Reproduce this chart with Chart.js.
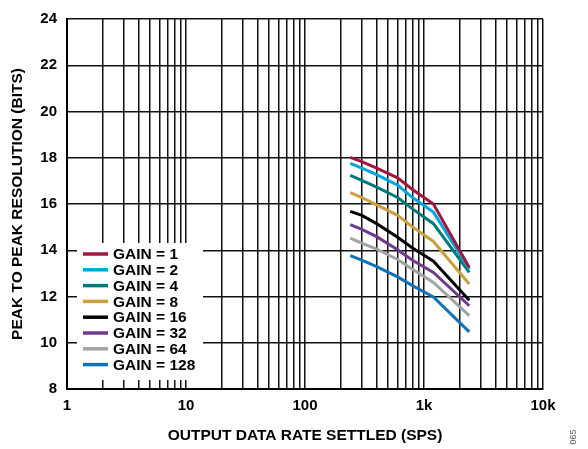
<!DOCTYPE html>
<html>
<head>
<meta charset="utf-8">
<script src="https://cdn.jsdelivr.net/npm/chart.js@4.4.1/dist/chart.umd.min.js"></script>
<style>
  body { margin: 0; background: #fff; }
  #wrap { width: 588px; height: 449px; }
</style>
</head>
<body>
<div id="wrap"><canvas id="chart" width="588" height="449"></canvas></div>
<script>
// Data
const rates = [240, 300, 400, 600, 800, 1200, 2400];
const seriesNames = ["GAIN = 1", "GAIN = 2", "GAIN = 4", "GAIN = 8", "GAIN = 16", "GAIN = 32", "GAIN = 64", "GAIN = 128"];
const gain1 = [18.02, 17.83, 17.55, 17.13, 16.63, 16.0, 13.25];
const gain2 = [17.76, 17.55, 17.27, 16.82, 16.28, 15.65, 13.18];
const gain4 = [17.24, 17.02, 16.73, 16.28, 15.79, 15.15, 13.04];
const gain8 = [16.49, 16.28, 15.96, 15.51, 15.01, 14.38, 12.54];
const gain16 = [15.68, 15.51, 15.15, 14.56, 14.1, 13.53, 11.84];
const gain32 = [15.11, 14.9, 14.59, 14.02, 13.57, 13.04, 11.6];
const gain64 = [14.52, 14.31, 14.05, 13.6, 13.18, 12.61, 11.17];
const gain128 = [13.77, 13.57, 13.29, 12.85, 12.47, 11.98, 10.47];
const colors = ["#a3173f", "#00a6dc", "#007a78", "#c9a03c", "#000000", "#6f3a8c", "#a3a3a3", "#1272b8"];
const yTicks = [8, 10, 12, 14, 16, 18, 20, 22, 24];

const allSeries = [gain1, gain2, gain4, gain8, gain16, gain32, gain64, gain128];

// log grid: 1..9 in each decade
const xGrid = [];
for (let d = 1; d <= 1000; d *= 10) {
  for (let m = 1; m < 10; m++) xGrid.push(m * d);
}
xGrid.push(10000);

const FONT = "'Liberation Sans', Arial, sans-serif";

// legend box drawn inside the plot, over the grid
const legendBox = {
  id: "legendBox",
  afterDatasetsDraw(chart) {
    const ctx = chart.ctx;
    ctx.save();
    ctx.fillStyle = "#fff";
    ctx.fillRect(77, 243, 126, 137);
    chart.data.datasets.forEach((ds, i) => {
      const y = 254 + i * 15.8;
      ctx.strokeStyle = ds.borderColor;
      ctx.lineWidth = 3.5;
      ctx.beginPath();
      ctx.moveTo(83, y);
      ctx.lineTo(108, y);
      ctx.stroke();
      ctx.fillStyle = "#000";
      ctx.font = "bold 15.5px " + FONT;
      ctx.textBaseline = "middle";
      ctx.fillText(ds.label, 113, y + 1);
    });
    // figure id at right edge
    ctx.translate(574, 437);
    ctx.rotate(-Math.PI / 2);
    ctx.fillStyle = "#555";
    ctx.font = "9px " + FONT;
    ctx.textAlign = "center";
    ctx.textBaseline = "middle";
    ctx.fillText("065", 0, 0);
    ctx.restore();
  }
};

new Chart(document.getElementById("chart"), {
  type: "line",
  data: {
    datasets: allSeries.map((vals, i) => ({
      label: seriesNames[i],
      data: rates.map((r, j) => ({ x: r, y: vals[j] })),
      borderColor: colors[i],
      backgroundColor: colors[i],
      borderWidth: 3,
      pointRadius: 0,
      tension: 0,
      fill: false
    }))
  },
  options: {
    responsive: false,
    animation: false,
    layout: { padding: { top: 11, right: 45, left: 0, bottom: 0 } },
    plugins: {
      legend: { display: false },
      tooltip: { enabled: false }
    },
    scales: {
      x: {
        type: "logarithmic",
        min: 1,
        max: 10000,
        afterBuildTicks(scale) {
          scale.ticks = xGrid.map(v => ({ value: v }));
        },
        afterFit(scale) { scale.height = 60; },
        grid: { color: "#111", lineWidth: 1.5, drawTicks: false },
        border: { color: "#000", width: 2 },
        ticks: {
          autoSkip: false,
          maxRotation: 0,
          padding: 8,
          color: "#000",
          font: { family: FONT, size: 15, weight: "bold" },
          callback(v) {
            if (v === 1) return "1";
            if (v === 10) return "10";
            if (v === 100) return "100";
            if (v === 1000) return "1k";
            if (v === 10000) return "10k";
            return "";
          }
        },
        title: {
          display: true,
          text: "OUTPUT DATA RATE SETTLED (SPS)",
          color: "#000",
          font: { family: FONT, size: 15.5, weight: "bold" },
          padding: { top: 6 }
        }
      },
      y: {
        min: 8,
        max: 24,
        afterBuildTicks(scale) {
          scale.ticks = yTicks.map(v => ({ value: v }));
        },
        afterFit(scale) { scale.width = 67; },
        grid: { color: "#111", lineWidth: 1.5, drawTicks: false },
        border: { color: "#000", width: 2 },
        ticks: {
          padding: 10,
          color: "#000",
          font: { family: FONT, size: 15, weight: "bold" }
        },
        title: {
          display: true,
          text: "PEAK TO PEAK RESOLUTION (BITS)",
          color: "#000",
          font: { family: FONT, size: 15.5, weight: "bold" },
          padding: { top: 8, bottom: 2 }
        }
      }
    }
  },
  plugins: [legendBox]
});
</script>
</body>
</html>
